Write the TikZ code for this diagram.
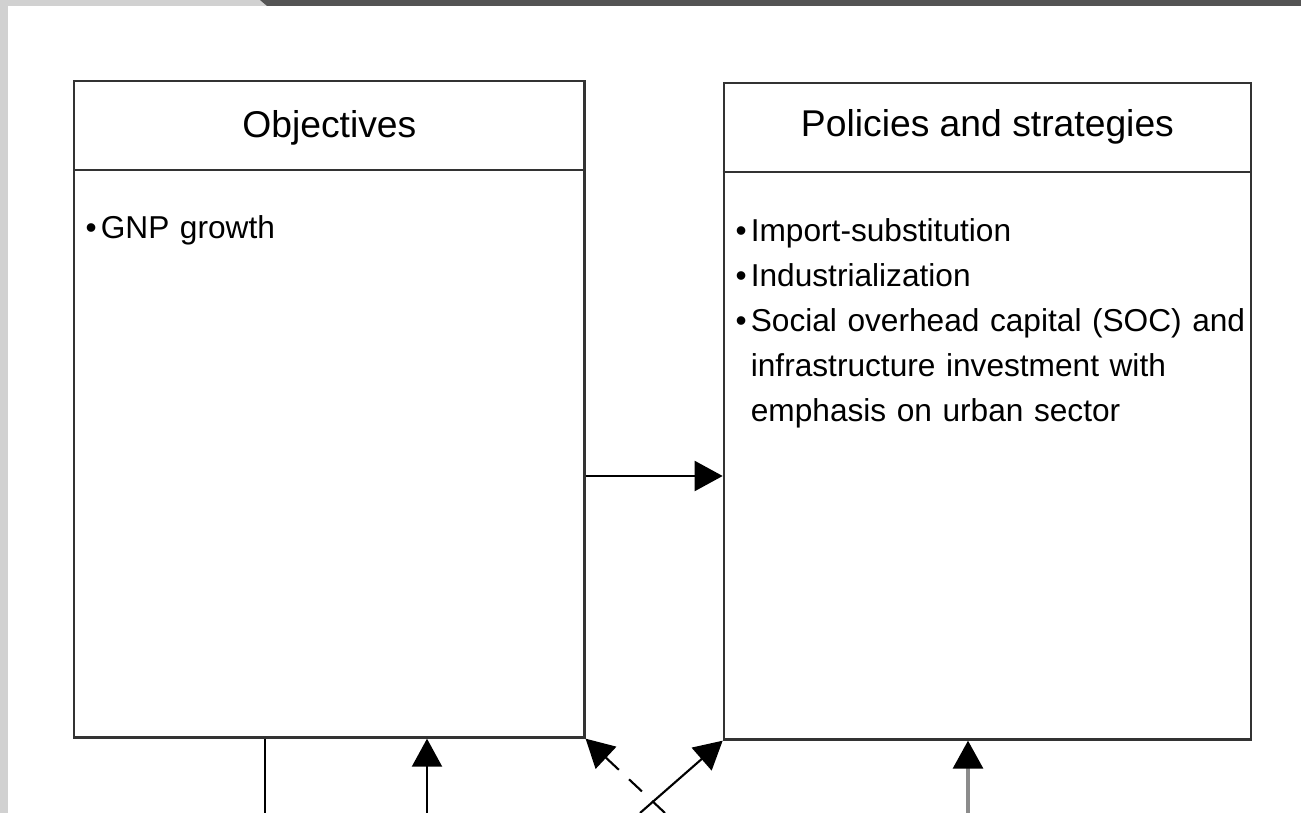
\documentclass[tikz,border=0pt]{standalone}
\usepackage{fontspec}
\setmainfont{Liberation Sans}
\usetikzlibrary{arrows.meta,positioning}

\newlength{\bulletwd}
\setlength{\bulletwd}{4.3pt}
\newcommand{\bitem}{\par\noindent\makebox[\bulletwd][l]{\textbullet}}
\newcommand{\bnext}{\newline\hspace*{\bulletwd}}

\begin{document}
\begin{tikzpicture}[
			x=0.01cm, y=-0.01cm,
			>={Triangle[length=0.28cm,width=0.3cm]},
			box/.style={draw=black!80, line width=0.65pt, inner sep=0pt, minimum height=6.56cm},
			title/.style={font={\fontsize{10.6}{13}\selectfont}, anchor=base},
			items/.style={anchor=north west, inner sep=0pt, align=left, text width=#1,
				font={\fontsize{9}{12.8}\selectfont\raggedright}},
			link/.style={->, line width=0.6pt},
			frame/.style={fill=black!18}
	]
	\useasboundingbox (0,0) rectangle (1301,813);
	% page edge of the scan
	\fill[frame] (0,0) rectangle (8,813);
	\fill[frame] (0,0) rectangle (266,6);
	\fill[black!67] (260,0) -- (1301,0) -- (1301,6) -- (267,6) -- cycle;

	% the two boxes
	\node[box, minimum width=5.10cm, anchor=north west] (obj) at (73,80) {};
	\node[box, minimum width=5.27cm, right=1.37cm of obj.north east, anchor=north west,
		yshift=-0.02cm] (pol) {};
	\draw[black!80, line width=0.65pt] (obj.west |- 0,170) -- (obj.east |- 0,170);
	\draw[black!80, line width=0.65pt] (pol.west |- 0,172) -- (pol.east |- 0,172);

	\node[title] (objtitle) at (obj.north |- 0,138) {Objectives};
	\node[title] (poltitle) at (pol.north |- 0,137) {Policies and strategies};

	\node[items=4.6cm] (objlist) at (85,193) {\bitem GNP growth};
	\node[items=5.4cm] (pollist) at (735,196) {%
		\bitem Import-substitution
		\bitem Industrialization
		\bitem Social overhead capital (SOC) and\bnext
		infrastructure investment with\bnext
		emphasis on urban sector};

	% connectors
	\coordinate (outA) at (265,813);
	\coordinate (inA) at (427,813);
	\coordinate (inB) at (665,813);
	\coordinate (inC) at (640,813);
	\coordinate (inD) at (968,813);

	\draw[link] (obj.east |- 0,476) -- (pol.west |- 0,476);
	\draw[line width=0.6pt] (obj.south -| outA) -- (outA);
	\draw[link] (inA) -- (obj.south -| inA);
	\draw[link, dashed, dash pattern=on 5pt off 4pt] (inB) -- (obj.south east);
	\draw[link] (inC) -- (pol.south west);
	\draw[line width=0.9pt, draw=black!45, -{Triangle[length=0.28cm,width=0.3cm,black]}]
		(inD) -- (pol.south -| inD);
\end{tikzpicture}
\end{document}
